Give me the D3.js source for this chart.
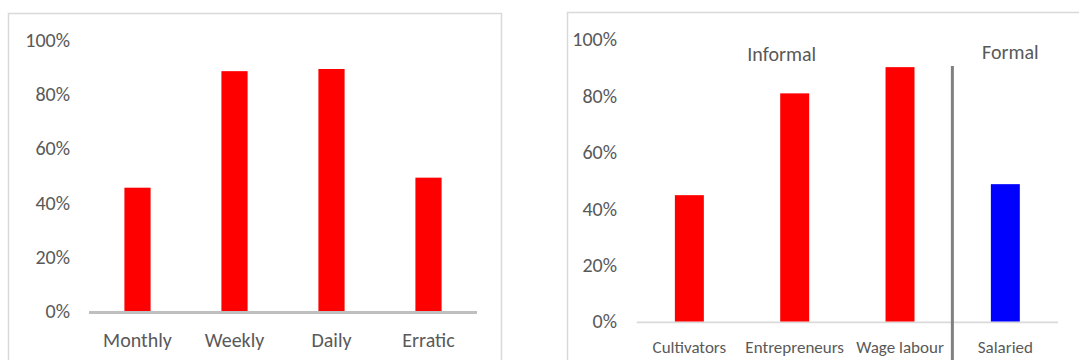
<!DOCTYPE html>
<html><head><meta charset="utf-8">
<script src="https://cdn.jsdelivr.net/npm/d3@7"></script>
<style>
html,body{margin:0;padding:0;background:#fff;}
svg{display:block;}
text{font-family:Carlito,Calibri,Lato,"Liberation Sans",sans-serif;fill:#595959;}
</style></head>
<body>
<svg id="c" width="1079" height="360"></svg>
<script>
// Left chart data
const freqCategories = ["Monthly", "Weekly", "Daily", "Erratic"];
const freqValues = [0.455, 0.885, 0.893, 0.492];
// Right chart data
const occCategories = ["Cultivators", "Entrepreneurs", "Wage labour", "Salaried"];
const occValues = [0.448, 0.809, 0.902, 0.487];
const occGroups = ["Informal", "Informal", "Informal", "Formal"];
const groupLabels = ["Informal", "Formal"];
const yTicks = [0, 0.2, 0.4, 0.6, 0.8, 1.0];

const svg = d3.select("#c");
const fmt = d3.format(".0%");

// ---------- Left panel ----------
svg.append("rect").attr("x", 8.5).attr("y", 13.5).attr("width", 493).attr("height", 360)
  .attr("fill", "none").attr("stroke", "#d9d9d9").attr("stroke-width", 1.5);

const yL = d3.scaleLinear().domain([0, 1]).range([311, 40]);
const xL = d3.scaleBand().domain(freqCategories).range([89, 477]).paddingInner(0.73).paddingOuter(0.365);

const axL = svg.append("g").attr("transform", "translate(70,0)")
  .call(d3.axisLeft(yL).tickValues(yTicks).tickFormat(fmt).tickSize(0).tickPadding(0));
axL.select(".domain").remove();
axL.selectAll("text").style("font-size", "20px").attr("fill", "#595959").attr("font-family", null);

svg.append("g").selectAll("rect").data(freqCategories).join("rect")
  .attr("x", d => xL(d)).attr("width", xL.bandwidth())
  .attr("y", (d, i) => yL(freqValues[i])).attr("height", (d, i) => yL(0) - yL(freqValues[i]))
  .attr("fill", "#ff0000");

svg.append("line").attr("x1", 89).attr("x2", 477).attr("y1", yL(0) + 1.5).attr("y2", yL(0) + 1.5)
  .attr("stroke", "#bfbfbf").attr("stroke-width", 3);

svg.append("g").selectAll("text").data(freqCategories).join("text")
  .attr("x", d => xL(d) + xL.bandwidth() / 2).attr("y", 347)
  .attr("text-anchor", "middle").style("font-size", "20px").text(d => d);

// ---------- Right panel ----------
svg.append("rect").attr("x", 567.5).attr("y", 12.5).attr("width", 600).attr("height", 360)
  .attr("fill", "none").attr("stroke", "#d9d9d9").attr("stroke-width", 1.5);

const yR = d3.scaleLinear().domain([0, 1]).range([321.5, 39.5]);
const xR = d3.scaleBand().domain(occCategories).range([636.7, 1058]).paddingInner(0.725).paddingOuter(0.3625);

const axR = svg.append("g").attr("transform", "translate(617,0)")
  .call(d3.axisLeft(yR).tickValues(yTicks).tickFormat(fmt).tickSize(0).tickPadding(0));
axR.select(".domain").remove();
axR.selectAll("text").style("font-size", "20px").attr("fill", "#595959").attr("font-family", null);

svg.append("line").attr("x1", 636.7).attr("x2", 1058).attr("y1", yR(0) + 0.8).attr("y2", yR(0) + 0.8)
  .attr("stroke", "#d9d9d9").attr("stroke-width", 1.8);

svg.append("g").selectAll("rect").data(occCategories).join("rect")
  .attr("x", d => xR(d)).attr("width", xR.bandwidth())
  .attr("y", (d, i) => yR(occValues[i])).attr("height", (d, i) => yR(0) - yR(occValues[i]))
  .attr("fill", (d, i) => occGroups[i] === "Formal" ? "#0000ff" : "#ff0000");

svg.append("g").selectAll("text").data(occCategories).join("text")
  .attr("x", d => xR(d) + xR.bandwidth() / 2).attr("y", 352.5)
  .attr("text-anchor", "middle").style("font-size", "17px").text(d => d);

// divider between Informal and Formal
const divX = xR(occCategories[3]) - xR.step() * xR.paddingInner() / 2 - 0.3;
svg.append("line").attr("x1", divX).attr("x2", divX).attr("y1", 66).attr("y2", 360)
  .attr("stroke", "#808080").attr("stroke-width", 3);

// group labels
const informalIdx = occGroups.map((g, i) => g === "Informal" ? i : -1).filter(i => i >= 0);
const infCenter = (xR(occCategories[informalIdx[0]]) + xR(occCategories[informalIdx[informalIdx.length - 1]]) + xR.bandwidth()) / 2;
const forCenter = xR("Salaried") + xR.bandwidth() / 2;
svg.append("text").attr("x", infCenter - 13).attr("y", 60.5).attr("text-anchor", "middle")
  .style("font-size", "20px").text(groupLabels[0]);
svg.append("text").attr("x", forCenter + 5).attr("y", 59).attr("text-anchor", "middle")
  .style("font-size", "20px").text(groupLabels[1]);
</script>
</body></html>
